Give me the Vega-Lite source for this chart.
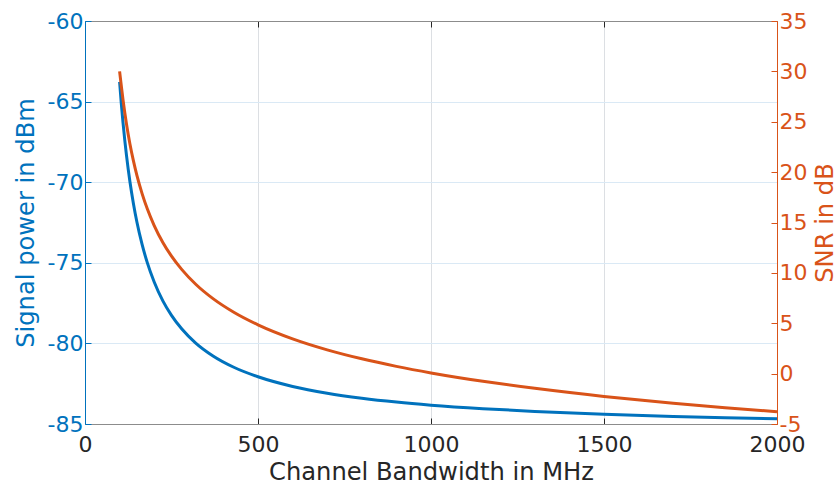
{
  "$schema": "https://vega.github.io/schema/vega-lite/v6.json",
  "width": 692,
  "height": 403,
  "autosize": {"type": "none"},
  "padding": {"left": 85, "top": 21, "right": 63, "bottom": 59},
  "background": "white",
  "config": {
    "view": {"stroke": null},
    "font": "DejaVu Sans",
    "axis": {
      "labelFont": "DejaVu Sans",
      "titleFont": "DejaVu Sans",
      "labelFontSize": 22,
      "titleFontSize": 24.2,
      "titleFontWeight": "normal",
      "labelFlush": false,
      "labelOverlap": false,
      "labelExpr": "'' + datum.value",
      "tickSize": -6,
      "tickWidth": 1,
      "domainWidth": 1
    }
  },
  "data": {
    "values": [
      {"bw": 100, "power": -63.78, "snr": 30.0},
      {"bw": 105, "power": -65.14, "snr": 28.55},
      {"bw": 110, "power": -66.34, "snr": 27.15},
      {"bw": 115, "power": -67.4, "snr": 25.89},
      {"bw": 120, "power": -68.35, "snr": 24.76},
      {"bw": 130, "power": -69.99, "snr": 22.77},
      {"bw": 140, "power": -71.33, "snr": 21.11},
      {"bw": 150, "power": -72.47, "snr": 19.67},
      {"bw": 165, "power": -73.86, "snr": 17.87},
      {"bw": 180, "power": -74.99, "snr": 16.36},
      {"bw": 200, "power": -76.19, "snr": 14.7},
      {"bw": 225, "power": -77.36, "snr": 13.02},
      {"bw": 250, "power": -78.26, "snr": 11.66},
      {"bw": 280, "power": -79.11, "snr": 10.32},
      {"bw": 320, "power": -79.98, "snr": 8.87},
      {"bw": 370, "power": -80.78, "snr": 7.44},
      {"bw": 430, "power": -81.48, "snr": 6.09},
      {"bw": 500, "power": -82.07, "snr": 4.84},
      {"bw": 600, "power": -82.67, "snr": 3.45},
      {"bw": 700, "power": -83.09, "snr": 2.36},
      {"bw": 800, "power": -83.4, "snr": 1.47},
      {"bw": 900, "power": -83.64, "snr": 0.72},
      {"bw": 1000, "power": -83.83, "snr": 0.07},
      {"bw": 1150, "power": -84.05, "snr": -0.76},
      {"bw": 1300, "power": -84.22, "snr": -1.46},
      {"bw": 1500, "power": -84.4, "snr": -2.26},
      {"bw": 1700, "power": -84.53, "snr": -2.93},
      {"bw": 1850, "power": -84.61, "snr": -3.38},
      {"bw": 2000, "power": -84.68, "snr": -3.79}
    ]
  },
  "resolve": {"scale": {"y": "independent"}, "axis": {"x": "independent"}},
  "layer": [
    {
      "mark": {"type": "line", "color": "#0072BD", "strokeWidth": 3, "interpolate": "monotone"},
      "encoding": {
        "x": {
          "field": "bw",
          "type": "quantitative",
          "scale": {"domain": [0, 2000], "nice": false, "zero": false},
          "axis": {
            "orient": "bottom",
            "title": "Channel Bandwidth in MHz",
            "values": [0, 500, 1000, 1500, 2000],
            "grid": true,
            "gridColor": "#dcdfe3",
            "domainColor": "#8c8c8c",
            "tickColor": "#262626",
            "labelColor": "#262626",
            "titleColor": "#262626",
            "labelPadding": 16,
            "titlePadding": 5
          }
        },
        "y": {
          "field": "power",
          "type": "quantitative",
          "scale": {"domain": [-85, -60], "nice": false, "zero": false},
          "axis": {
            "orient": "left",
            "title": "Signal power in dBm",
            "values": [-85, -80, -75, -70, -65, -60],
            "grid": true,
            "gridColor": "#dae9f5",
            "domainColor": "#0072BD",
            "tickColor": "#0072BD",
            "labelColor": "#0072BD",
            "titleColor": "#0072BD",
            "labelPadding": 8,
            "titlePadding": 9
          }
        }
      }
    },
    {
      "mark": {"type": "line", "color": "#D95319", "strokeWidth": 3, "interpolate": "monotone"},
      "encoding": {
        "x": {
          "field": "bw",
          "type": "quantitative",
          "scale": {"domain": [0, 2000], "nice": false, "zero": false},
          "axis": {
            "orient": "top",
            "title": null,
            "labels": false,
            "values": [0, 500, 1000, 1500, 2000],
            "grid": false,
            "domainColor": "#8c8c8c",
            "tickColor": "#262626"
          }
        },
        "y": {
          "field": "snr",
          "type": "quantitative",
          "scale": {"domain": [-5, 35], "nice": false, "zero": false},
          "axis": {
            "orient": "right",
            "title": "SNR in dB",
            "values": [-5, 0, 5, 10, 15, 20, 25, 30, 35],
            "grid": false,
            "domainColor": "#D95319",
            "tickColor": "#D95319",
            "labelColor": "#D95319",
            "titleColor": "#D95319",
            "labelPadding": 8,
            "titlePadding": 7,
            "titleAngle": -90,
            "titleBaseline": "top"
          }
        }
      }
    }
  ]
}
